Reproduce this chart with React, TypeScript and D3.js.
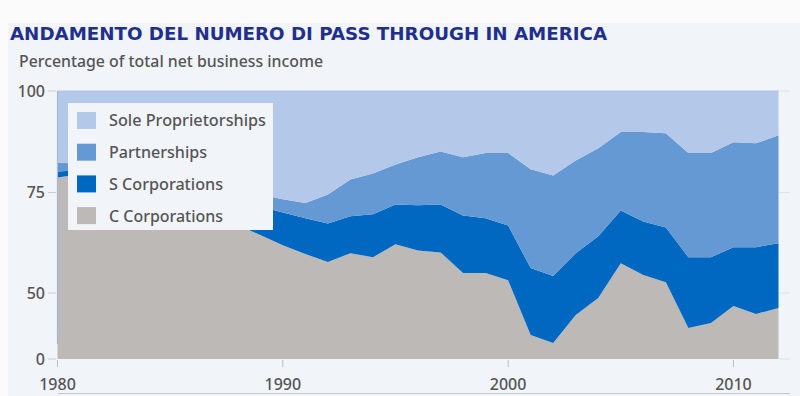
import * as d3 from "d3";

const years = [
  1980, 1981, 1982, 1983, 1984, 1985, 1986, 1987, 1988, 1989, 1990,
  1991, 1992, 1993, 1994, 1995, 1996, 1997, 1998, 1999, 2000, 2001,
  2002, 2003, 2004, 2005, 2006, 2007, 2008, 2009, 2010, 2011, 2012,
];

const cCorporations = [
  78.7, 79.5, 78.0, 76.0, 75.5, 73.0, 71.0, 69.5, 67.0, 64.4, 61.9,
  59.7, 57.7, 59.9, 58.9, 62.1, 60.6, 60.1, 55.0, 55.0, 53.2, 18.2,
  12.1, 33.3, 46.2, 57.4, 54.5, 52.7, 23.5, 27.3, 40.2, 34.1, 38.6,
];
const sCorporations = [
  1.5, 1.0, 1.5, 2.0, 2.0, 3.0, 3.5, 3.5, 5.5, 7.1, 8.1,
  8.9, 9.6, 9.2, 10.7, 9.9, 11.2, 11.9, 14.3, 13.6, 13.6, 38.0,
  42.1, 26.6, 17.9, 13.1, 13.3, 13.6, 35.4, 31.6, 21.2, 27.3, 23.8,
];
const partnerships = [
  2.2, 1.5, 2.0, 2.5, 2.5, 2.5, 2.5, 3.0, 2.5, 3.0, 3.3,
  3.8, 7.2, 9.1, 10.1, 9.9, 11.9, 13.1, 14.4, 16.1, 17.9, 24.5,
  25.0, 23.0, 21.8, 19.4, 22.1, 23.3, 25.8, 25.8, 26.0, 25.7, 26.7,
];
const soleProprietorships = [
  17.6, 18.0, 18.5, 19.5, 20.0, 21.5, 23.0, 24.0, 25.0, 25.5, 26.7,
  27.6, 25.5, 21.8, 20.3, 18.1, 16.3, 14.9, 16.3, 15.3, 15.3, 19.3,
  20.8, 17.1, 14.1, 10.1, 10.1, 10.4, 15.3, 15.3, 12.6, 12.9, 10.9,
];

const yTicks = [0, 50, 75, 100];
const xTicks = [1980, 1990, 2000, 2010];

const KEYS = ["c", "s", "p", "sole"] as const;
const LABELS: Record<string, string> = {
  sole: "Sole Proprietorships",
  p: "Partnerships",
  s: "S Corporations",
  c: "C Corporations",
};
const LABEL_WIDTHS: Record<string, number> = {
  sole: 157,
  p: 98,
  s: 114,
  c: 114,
};
const COLORS: Record<string, string> = {
  sole: "#b4c9ea",
  p: "#6599d3",
  s: "#0068c0",
  c: "#bcb9b6",
};

const BG = "#f1f4f9";
const TEXT = "#555555";
const FONT = "'Noto Sans', 'Open Sans', sans-serif";

export default function App() {
  const width = 800;
  const height = 396;

  const x = d3.scaleLinear().domain([1980, 2012]).range([57.5, 778.5]);
  // broken axis: the 0-50 band is squeezed
  const y = d3
    .scaleLinear()
    .domain([0, 50, 75, 100])
    .range([359, 293, 192.5, 91])
    .clamp(true);

  const rows = years.map((year, i) => ({
    year,
    c: cCorporations[i],
    s: sCorporations[i],
    p: partnerships[i],
    sole: soleProprietorships[i],
  }));

  const series = d3.stack<(typeof rows)[number]>().keys(KEYS as unknown as string[])(rows);

  const area = d3
    .area<d3.SeriesPoint<(typeof rows)[number]>>()
    .x((d) => x(d.data.year))
    .y0((d) => y(d[0]))
    .y1((d) => y(Math.min(d[1], 100)));

  const legendOrder = ["sole", "p", "s", "c"];

  return (
    <svg
      width={width}
      height={height}
      style={{ position: "absolute", left: 0, top: 0, background: "#fbfbfc" }}
    >
      <rect x={8} y={23} width={width - 8} height={height - 23} fill={BG} />

      <text
        x={10}
        y={40}
        fill="#1f2f8e"
        fontFamily="'DejaVu Sans', Verdana, sans-serif"
        fontWeight="bold"
        fontSize={18.5}
        textLength={597}
        lengthAdjust="spacingAndGlyphs"
      >
        ANDAMENTO DEL NUMERO DI PASS THROUGH IN AMERICA
      </text>
      <text
        x={19}
        y={67}
        fill={TEXT}
        fontFamily={FONT}
        fontSize={16}
        fontWeight={500}
        textLength={304}
        lengthAdjust="spacingAndGlyphs"
      >
        Percentage of total net business income
      </text>

      {series.map((s) => (
        <path key={s.key} d={area(s) ?? ""} fill={COLORS[s.key]} />
      ))}

      <line x1={57.5} x2={57.5} y1={91} y2={344} stroke="#a3b8da" strokeWidth={1.2} />
      <line x1={57} x2={779} y1={90.5} y2={90.5} stroke="#d6dde8" strokeWidth={1} />

      {yTicks.map((t) => (
        <g key={t}>
          <line x1={48} x2={56} y1={y(t)} y2={y(t)} stroke="#c8cdd4" />
          <line x1={779} x2={790} y1={y(t)} y2={y(t)} stroke="#dde2ea" />
          <text
            x={45}
            y={y(t)}
            dy="0.35em"
            textAnchor="end"
            fill={TEXT}
            fontFamily={FONT}
            fontWeight={500}
            fontSize={16}
          >
            {t}
          </text>
        </g>
      ))}

      {xTicks.map((t) => (
        <g key={t}>
          <line x1={x(t)} x2={x(t)} y1={360} y2={367} stroke="#b9bec6" />
          <text
            x={x(t)}
            y={390}
            textAnchor="middle"
            fill={TEXT}
            fontFamily={FONT}
            fontWeight={500}
            fontSize={16}
          >
            {t}
          </text>
        </g>
      ))}

      <line x1={58} x2={790} y1={393.5} y2={393.5} stroke="#c4c8ce" />

      <g>
        <rect x={68} y={103} width={205} height={127} fill={BG} />
        {legendOrder.map((k, i) => (
          <g key={k} transform={`translate(77, ${112 + i * 31.7})`}>
            <rect width={19} height={17} fill={COLORS[k]} />
            <text
              x={32}
              y={8.5}
              dy="0.36em"
              fill={TEXT}
              fontFamily={FONT}
              fontWeight={500}
              fontSize={16.5}
              textLength={LABEL_WIDTHS[k]}
              lengthAdjust="spacingAndGlyphs"
            >
              {LABELS[k]}
            </text>
          </g>
        ))}
      </g>
    </svg>
  );
}
